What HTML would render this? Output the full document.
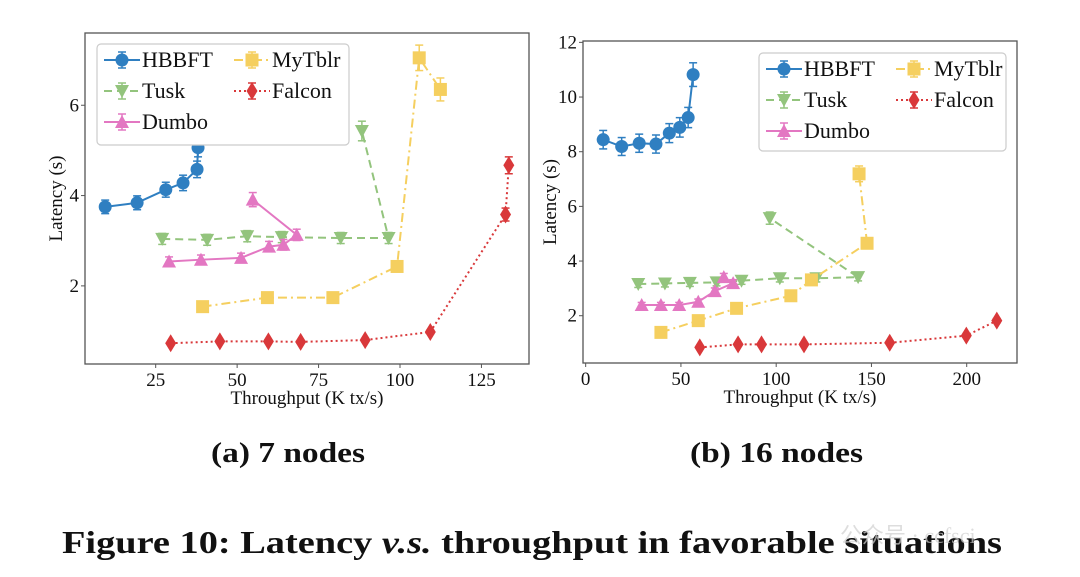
<!DOCTYPE html>
<html><head><meta charset="utf-8"><style>
body{margin:0;background:#fff;width:1080px;height:577px;overflow:hidden}
svg{display:block}
text{font-family:"Liberation Serif",serif;fill:#111}
</style></head><body>
<svg id="fig" width="1080" height="577">
<text x="211" y="462" font-size="28" font-weight="bold" textLength="154" lengthAdjust="spacingAndGlyphs">(a) 7 nodes</text>
<text x="690" y="462" font-size="28" font-weight="bold" textLength="173" lengthAdjust="spacingAndGlyphs">(b) 16 nodes</text>
<text x="62" y="553" font-size="32" font-weight="bold" textLength="940" lengthAdjust="spacingAndGlyphs">Figure 10: Latency <tspan font-style="italic">v.s.</tspan> throughput in favorable situations</text>
<text x="840" y="543" font-size="22" style="fill:#d0d0d0;opacity:0.7" font-family="Liberation Sans, Noto Sans CJK SC, sans-serif">公众号 · ccfsci</text>
</svg>
<script>
// ---- chart (a) data ----
const aHbbftX=[9.5,19.3,28.1,33.4,37.7,38.0];
const aHbbftY=[3.75,3.84,4.13,4.28,4.58,5.06];
const aTuskX=[27,40.8,53.1,63.7,81.8,96.5,88.3];
const aTuskY=[3.04,3.02,3.1,3.08,3.06,3.06,5.43];
const aDumboX=[29.1,38.9,51.2,59.8,64.2,68.3,54.8];
const aDumboY=[2.54,2.58,2.62,2.87,2.91,3.13,3.91];
const aMytX=[39.4,59.3,79.4,99.1,105.9,112.4];
const aMytY=[1.54,1.74,1.74,2.43,7.05,6.35];
const aFalX=[29.6,44.7,59.6,69.5,89.3,109.3,132.4,133.4];
const aFalY=[0.73,0.77,0.77,0.76,0.8,0.98,3.58,4.67];
const aXTicks=[25,50,75,100,125];
const aYTicks=[2,4,6];
// ---- chart (b) data ----
const bHbbftX=[9.2,18.9,28.1,36.9,43.9,49.4,53.8,56.4];
const bHbbftY=[8.44,8.19,8.31,8.28,8.68,8.89,9.25,10.82];
const bTuskX=[27.6,41.6,54.7,68.7,81.8,101.9,121.1,143,96.6];
const bTuskY=[3.16,3.18,3.2,3.22,3.28,3.37,3.37,3.41,5.57];
const bDumboX=[29.4,39.5,49.1,59.1,67.8,77.4,72.5];
const bDumboY=[2.39,2.39,2.39,2.51,2.9,3.19,3.41];
const bMytX=[39.5,59.1,79.2,107.7,118.5,147.7,143.5];
const bMytY=[1.39,1.82,2.27,2.73,3.31,4.65,7.19];
const bFalX=[59.9,80,92.3,114.6,159.6,199.8,215.8];
const bFalY=[0.84,0.95,0.95,0.95,1.01,1.27,1.82];
const bXTicks=[0,50,100,150,200];
const bYTicks=[2,4,6,8,10,12];

const NS='http://www.w3.org/2000/svg';
const svg=document.getElementById('fig');
function mk(tag,attrs,parent){const e=document.createElementNS(NS,tag);for(const k in attrs)e.setAttribute(k,attrs[k]);(parent||svg).appendChild(e);return e;}
const C={h:'#2f7fc1',t:'#93c47d',d:'#e377c2',m:'#f5cf5f',f:'#d9383a'};

function marker(g,type,x,y,col){
  let e;
  if(type==='o'){e=mk('circle',{cx:x,cy:y,r:6.5,fill:col},g);}
  else if(type==='v'){e=mk('polygon',{points:`${x-7},${y-6} ${x+7},${y-6} ${x},${y+7}`,fill:col},g);}
  else if(type==='^'){e=mk('polygon',{points:`${x-7},${y+6} ${x+7},${y+6} ${x},${y-7}`,fill:col},g);}
  else if(type==='s'){e=mk('rect',{x:x-6.5,y:y-6.5,width:13,height:13,fill:col},g);}
  else {e=mk('polygon',{points:`${x},${y-9} ${x+5.5},${y} ${x},${y+9} ${x-5.5},${y}`,fill:col},g);}
  
  
}
function errbar(g,x,y1,y2,col){
  mk('line',{x1:x,x2:x,y1:y1,y2:y2,stroke:col,'stroke-width':1.5},g);
  mk('line',{x1:x-4,x2:x+4,y1:y1,y2:y1,stroke:col,'stroke-width':1.5},g);
  mk('line',{x1:x-4,x2:x+4,y1:y2,y2:y2,stroke:col,'stroke-width':1.5},g);
}

function chart(cfg){
  const {L,R,T,B,x0,x1,y0,y1}=cfg;
  const sx=v=>L+(v-x0)/(x1-x0)*(R-L);
  const sy=v=>B-(v-y0)/(y1-y0)*(B-T);
  const g=mk('g',{});
  
  
  const ax=mk('rect',{x:L,y:T,width:R-L,height:B-T,fill:'none',stroke:'#555','stroke-width':1.3},g);
  
  
  cfg.xt.forEach(v=>{const x=sx(v);mk('line',{x1:x,x2:x,y1:B,y2:B+4,stroke:'#555'},g);
    const t=mk('text',{x:x,y:B+22,'font-size':19,'text-anchor':'middle'},g);t.textContent=v;
    
    });
  cfg.yt.forEach(v=>{const y=sy(v);mk('line',{x1:L-4,x2:L,y1:y,y2:y,stroke:'#555'},g);
    const t=mk('text',{x:L-6,y:y+6,'font-size':19,'text-anchor':'end'},g);t.textContent=v;
    
    });
  const xl=mk('text',{x:(L+R)/2,y:B+40,'font-size':19,'text-anchor':'middle'},g);xl.textContent='Throughput (K tx/s)';
  
  
  const yl=mk('text',{x:0,y:0,'font-size':19,'text-anchor':'middle',transform:`translate(${cfg.ylx},${(T+B)/2}) rotate(-90)`},g);yl.textContent='Latency (s)';
  
  
  const dash={h:'',t:'8,5',d:'',m:'9,4,2,4',f:'2,3'};
  const mt={h:'o',t:'v',d:'^',m:'s',f:'d'};
  cfg.series.forEach(s=>{
    const sg=mk('g',{},g);
    
    
    const pts=s.x.map((v,i)=>sx(v)+','+sy(s.y[i])).join(' ');
    mk('polyline',{points:pts,fill:'none',stroke:C[s.k],'stroke-width':2,'stroke-dasharray':dash[s.k]},sg);
    s.x.forEach((v,i)=>{const e=s.y[i]*0.04;errbar(sg,sx(v),sy(s.y[i]+e),sy(s.y[i]-e),C[s.k]);marker(sg,mt[s.k],sx(v),sy(s.y[i]),C[s.k]);});
  });
  const lg=mk('g',{},g);
  
  
  const [lx,ly,lw,lh]=cfg.leg;
  mk('rect',{x:lx,y:ly,width:lw,height:lh,rx:4,fill:'#fff',stroke:'#ccc','stroke-width':1.2},lg);
  const items=[['h','HBBFT',0,0],['m','MyTblr',1,0],['t','Tusk',0,1],['f','Falcon',1,1],['d','Dumbo',0,2]];
  items.forEach(([k,name,c,r])=>{
    const ex=lx+7+c*cfg.colw, ey=ly+16+r*31;
    const it=mk('g',{},lg);
    
    
    mk('line',{x1:ex,x2:ex+36,y1:ey,y2:ey,stroke:C[k],'stroke-width':2,'stroke-dasharray':dash[k]},it);
    errbar(it,ex+18,ey-8,ey+8,C[k]);
    marker(it,mt[k],ex+18,ey,C[k]);
    const t=mk('text',{x:ex+38,y:ey+7,'font-size':22},it);t.textContent=name;
  });
}
chart({name:'chart-7-nodes',L:85,R:529,T:33,B:364,x0:3.3,x1:139.6,y0:0.27,y1:7.6,xt:aXTicks,yt:aYTicks,ylx:62,
  leg:[97,44,252,101],colw:130,
  series:[{name:'tusk',k:'t',x:aTuskX,y:aTuskY},{name:'dumbo',k:'d',x:aDumboX,y:aDumboY},{name:'mytblr',k:'m',x:aMytX,y:aMytY},{name:'falcon',k:'f',x:aFalX,y:aFalY},{name:'hbbft',k:'h',x:aHbbftX,y:aHbbftY}]});
chart({name:'chart-16-nodes',L:583,R:1017,T:41,B:363,x0:-1.4,x1:226.4,y0:0.27,y1:12.05,xt:bXTicks,yt:bYTicks,ylx:556,
  leg:[759,53,247,98],colw:130,
  series:[{name:'tusk',k:'t',x:bTuskX,y:bTuskY},{name:'dumbo',k:'d',x:bDumboX,y:bDumboY},{name:'mytblr',k:'m',x:bMytX,y:bMytY},{name:'falcon',k:'f',x:bFalX,y:bFalY},{name:'hbbft',k:'h',x:bHbbftX,y:bHbbftY}]});
</script>
</body></html>
